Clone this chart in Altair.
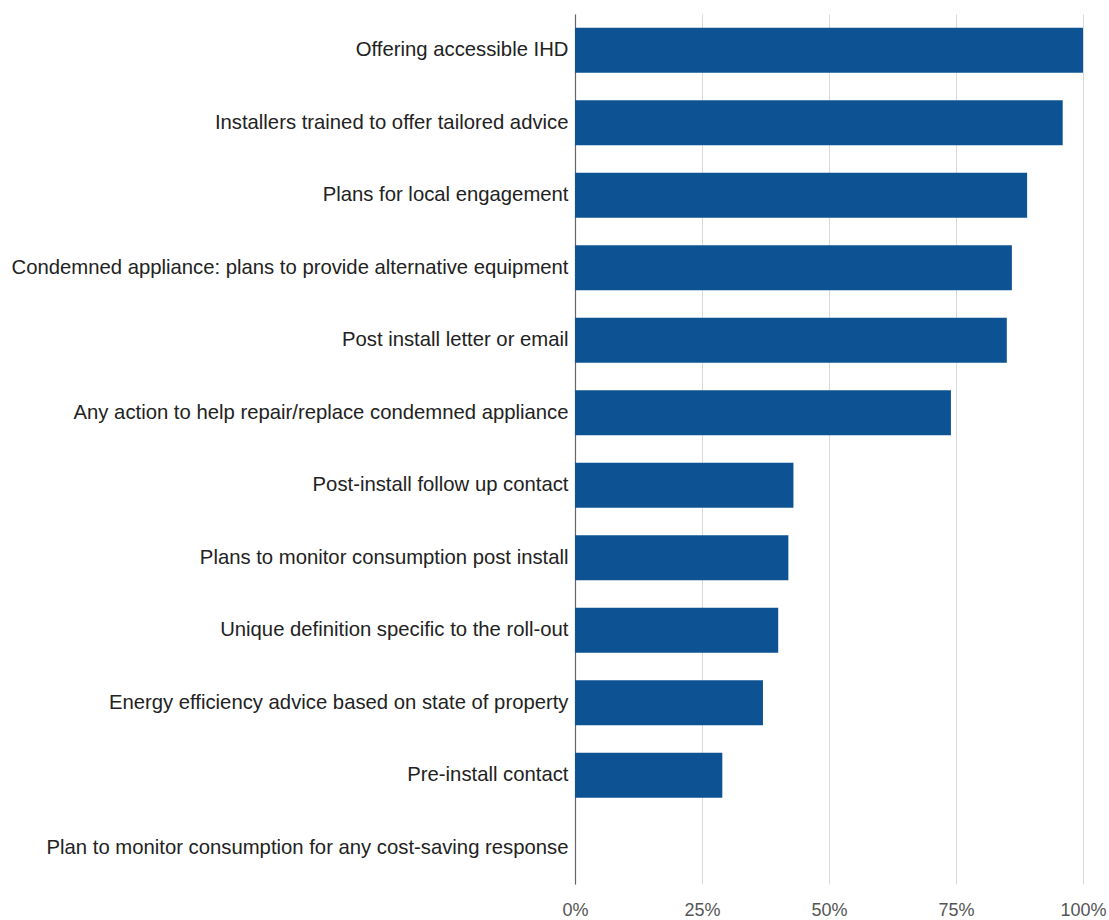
import altair as alt
import pandas as pd

categories = [
    "Offering accessible IHD",
    "Installers trained to offer tailored advice",
    "Plans for local engagement",
    "Condemned appliance: plans to provide alternative equipment",
    "Post install letter or email",
    "Any action to help repair/replace condemned appliance",
    "Post-install follow up contact",
    "Plans to monitor consumption post install",
    "Unique definition specific to the roll-out",
    "Energy efficiency advice based on state of property",
    "Pre-install contact",
    "Plan to monitor consumption for any cost-saving response",
]
values = [1.00, 0.96, 0.89, 0.86, 0.85, 0.74, 0.43, 0.42, 0.40, 0.37, 0.29, 0.0]

df = pd.DataFrame({"category": categories, "value": values})

chart = alt.Chart(df).mark_bar(color="#0d5394").encode(
    x=alt.X("value:Q",
            scale=alt.Scale(domain=[0, 1], nice=False),
            axis=alt.Axis(format=".0%", values=[0, 0.25, 0.5, 0.75, 1.0],
                          title=None, domain=False, ticks=False,
                          grid=True, gridColor="#d9d9d9", gridWidth=1,
                          labelFontSize=18, labelColor="#555555",
                          labelFont="Liberation Sans", labelPadding=17,
                          labelFlush=False)),
    y=alt.Y("category:N", sort=categories,
            scale=alt.Scale(paddingInner=0.38, paddingOuter=0.19),
            axis=alt.Axis(title=None, ticks=False, domain=True,
                          domainColor="#666666", domainWidth=1.2,
                          labelFontSize=20.3, labelColor="#222222",
                          labelFont="Liberation Sans", labelPadding=7,
                          labelLimit=700)),
).properties(
    width=508,
    height=870,
    autosize=alt.AutoSizeParams(type="none"),
    padding={"left": 575, "top": 14, "right": 26, "bottom": 36},
).configure_view(stroke=None)

chart.save("out.html", embed_options={"renderer": "svg", "actions": False})
